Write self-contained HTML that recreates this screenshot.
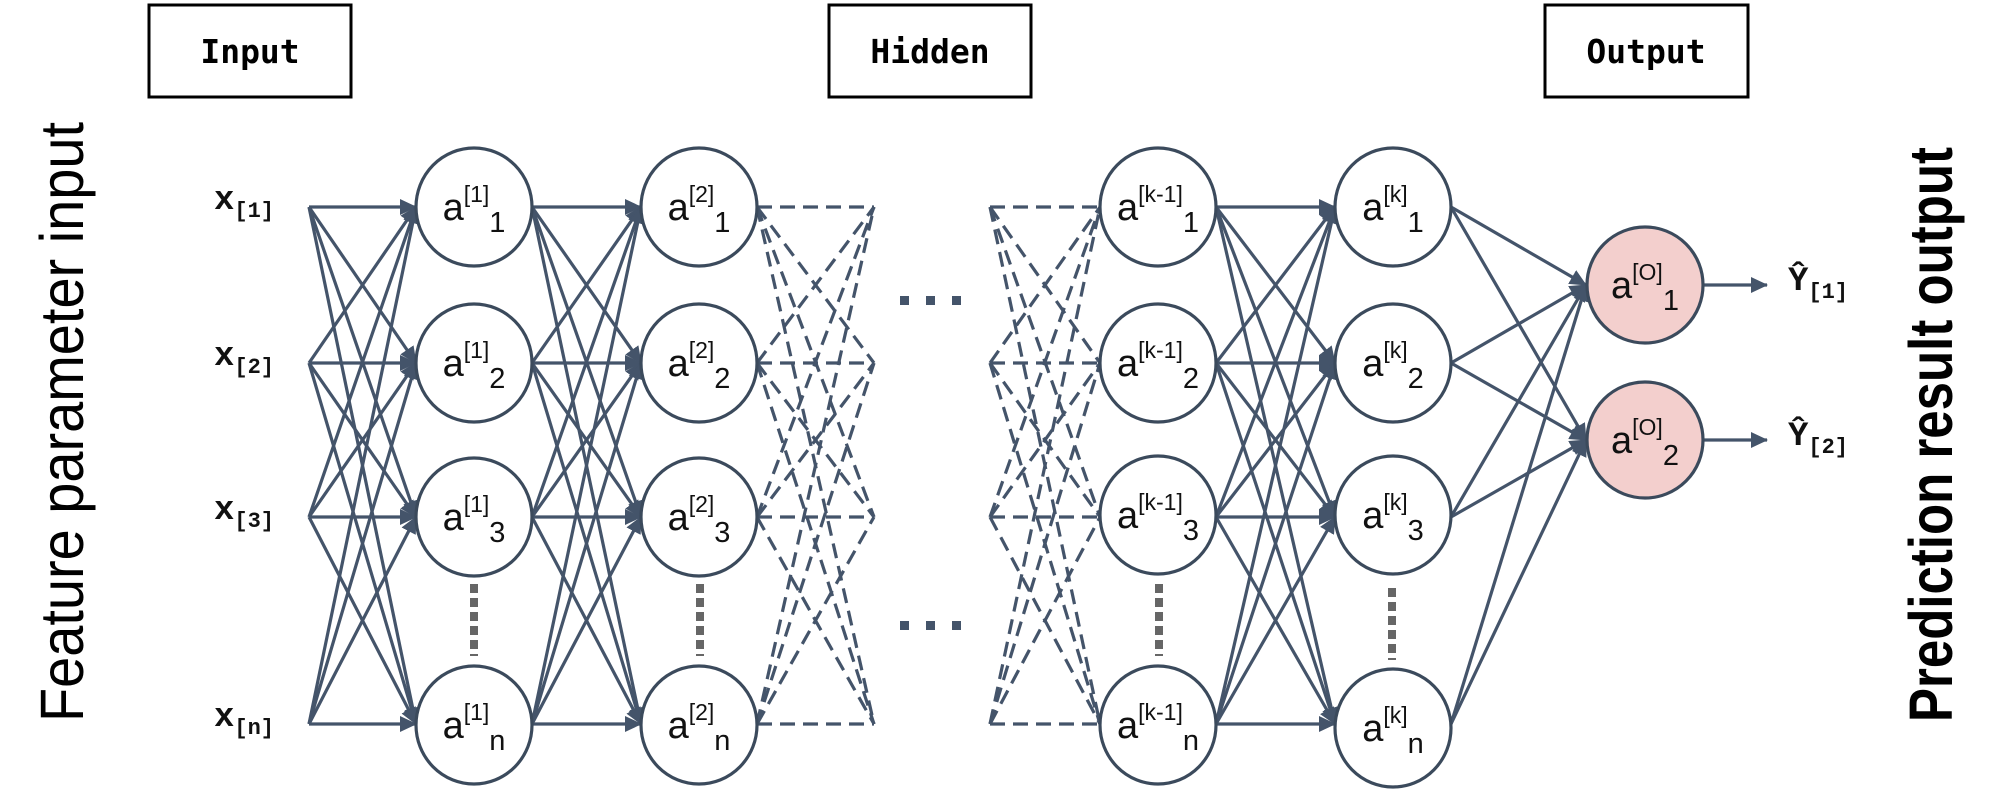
<!DOCTYPE html>
<html><head><meta charset="utf-8"><style>
html,body{margin:0;padding:0;background:#fff;}
svg{display:block;}
.l{stroke:#44546a;stroke-width:3.2;fill:none;}
.d{stroke:#44546a;stroke-width:3.2;fill:none;stroke-dasharray:15 8;}
.n{fill:#fff;stroke:#3b4a5c;stroke-width:3.2;}
.o{fill:#f3cfcd;stroke:#3b4a5c;stroke-width:3.2;}
.t{font-family:"Liberation Sans",sans-serif;font-size:38px;fill:#111;}
.v{stroke:#666;stroke-width:8;stroke-dasharray:9 5;}
.m{font-family:"Liberation Mono",monospace;font-weight:bold;}
.b{font-family:"DejaVu Sans Mono","Liberation Mono",monospace;font-weight:bold;}
</style></head><body>
<svg width="2000" height="792" viewBox="0 0 2000 792" xmlns="http://www.w3.org/2000/svg">
<defs>
<marker id="a" markerUnits="userSpaceOnUse" markerWidth="20" markerHeight="20" refX="16" refY="8" orient="auto"><path d="M0,0 L17,8 L0,16 Z" fill="#44546a"/></marker>
</defs>
<rect x="149" y="5" width="202" height="92" fill="#fff" stroke="#000" stroke-width="3"/>
<text x="250" y="63" text-anchor="middle" class="b" font-size="33">Input</text>
<rect x="829" y="5" width="202" height="92" fill="#fff" stroke="#000" stroke-width="3"/>
<text x="930" y="63" text-anchor="middle" class="b" font-size="33">Hidden</text>
<rect x="1545" y="5" width="203" height="92" fill="#fff" stroke="#000" stroke-width="3"/>
<text x="1646" y="63" text-anchor="middle" class="b" font-size="33">Output</text>
<text transform="translate(83,722) rotate(-90)" font-family="Liberation Sans,sans-serif" font-size="61" textLength="600" lengthAdjust="spacingAndGlyphs">Feature parameter input</text>
<text transform="translate(1952,722) rotate(-90)" font-family="Liberation Sans,sans-serif" font-weight="bold" font-size="61" textLength="575" lengthAdjust="spacingAndGlyphs">Prediction result output</text>
<g class="m" fill="#111">
<text x="214" y="209" font-size="34">x<tspan font-size="22" dy="8">[1]</tspan></text>
<text x="214" y="365" font-size="34">x<tspan font-size="22" dy="8">[2]</tspan></text>
<text x="214" y="519" font-size="34">x<tspan font-size="22" dy="8">[3]</tspan></text>
<text x="214" y="726" font-size="34">x<tspan font-size="22" dy="8">[n]</tspan></text>
<text x="1788" y="290" font-size="34">Ŷ<tspan font-size="22" dy="8">[1]</tspan></text>
<text x="1788" y="445" font-size="34">Ŷ<tspan font-size="22" dy="8">[2]</tspan></text>
</g>
<g class="l" marker-end="url(#a)">
<line x1="309" y1="207" x2="416" y2="207"/><line x1="309" y1="207" x2="416" y2="363"/><line x1="309" y1="207" x2="416" y2="517"/><line x1="309" y1="207" x2="416" y2="724"/>
<line x1="309" y1="363" x2="416" y2="207"/><line x1="309" y1="363" x2="416" y2="363"/><line x1="309" y1="363" x2="416" y2="517"/><line x1="309" y1="363" x2="416" y2="724"/>
<line x1="309" y1="517" x2="416" y2="207"/><line x1="309" y1="517" x2="416" y2="363"/><line x1="309" y1="517" x2="416" y2="517"/><line x1="309" y1="517" x2="416" y2="724"/>
<line x1="309" y1="724" x2="416" y2="207"/><line x1="309" y1="724" x2="416" y2="363"/><line x1="309" y1="724" x2="416" y2="517"/><line x1="309" y1="724" x2="416" y2="724"/>
</g>
<g class="l" marker-end="url(#a)">
<line x1="532" y1="207" x2="641" y2="207"/><line x1="532" y1="207" x2="641" y2="363"/><line x1="532" y1="207" x2="641" y2="517"/><line x1="532" y1="207" x2="641" y2="724"/>
<line x1="532" y1="363" x2="641" y2="207"/><line x1="532" y1="363" x2="641" y2="363"/><line x1="532" y1="363" x2="641" y2="517"/><line x1="532" y1="363" x2="641" y2="724"/>
<line x1="532" y1="517" x2="641" y2="207"/><line x1="532" y1="517" x2="641" y2="363"/><line x1="532" y1="517" x2="641" y2="517"/><line x1="532" y1="517" x2="641" y2="724"/>
<line x1="532" y1="724" x2="641" y2="207"/><line x1="532" y1="724" x2="641" y2="363"/><line x1="532" y1="724" x2="641" y2="517"/><line x1="532" y1="724" x2="641" y2="724"/>
</g>
<g class="d">
<line x1="757" y1="207" x2="874" y2="207"/><line x1="757" y1="207" x2="874" y2="363"/><line x1="757" y1="207" x2="874" y2="517"/><line x1="757" y1="207" x2="874" y2="724"/>
<line x1="757" y1="363" x2="874" y2="207"/><line x1="757" y1="363" x2="874" y2="363"/><line x1="757" y1="363" x2="874" y2="517"/><line x1="757" y1="363" x2="874" y2="724"/>
<line x1="757" y1="517" x2="874" y2="207"/><line x1="757" y1="517" x2="874" y2="363"/><line x1="757" y1="517" x2="874" y2="517"/><line x1="757" y1="517" x2="874" y2="724"/>
<line x1="757" y1="724" x2="874" y2="207"/><line x1="757" y1="724" x2="874" y2="363"/><line x1="757" y1="724" x2="874" y2="517"/><line x1="757" y1="724" x2="874" y2="724"/>
</g>
<g class="d">
<line x1="990" y1="207" x2="1100" y2="207"/><line x1="990" y1="207" x2="1100" y2="363"/><line x1="990" y1="207" x2="1100" y2="517"/><line x1="990" y1="207" x2="1100" y2="724"/>
<line x1="990" y1="363" x2="1100" y2="207"/><line x1="990" y1="363" x2="1100" y2="363"/><line x1="990" y1="363" x2="1100" y2="517"/><line x1="990" y1="363" x2="1100" y2="724"/>
<line x1="990" y1="517" x2="1100" y2="207"/><line x1="990" y1="517" x2="1100" y2="363"/><line x1="990" y1="517" x2="1100" y2="517"/><line x1="990" y1="517" x2="1100" y2="724"/>
<line x1="990" y1="724" x2="1100" y2="207"/><line x1="990" y1="724" x2="1100" y2="363"/><line x1="990" y1="724" x2="1100" y2="517"/><line x1="990" y1="724" x2="1100" y2="724"/>
</g>
<g class="l" marker-end="url(#a)">
<line x1="1216" y1="207" x2="1335" y2="207"/><line x1="1216" y1="207" x2="1335" y2="363"/><line x1="1216" y1="207" x2="1335" y2="517"/><line x1="1216" y1="207" x2="1335" y2="724"/>
<line x1="1216" y1="363" x2="1335" y2="207"/><line x1="1216" y1="363" x2="1335" y2="363"/><line x1="1216" y1="363" x2="1335" y2="517"/><line x1="1216" y1="363" x2="1335" y2="724"/>
<line x1="1216" y1="517" x2="1335" y2="207"/><line x1="1216" y1="517" x2="1335" y2="363"/><line x1="1216" y1="517" x2="1335" y2="517"/><line x1="1216" y1="517" x2="1335" y2="724"/>
<line x1="1216" y1="724" x2="1335" y2="207"/><line x1="1216" y1="724" x2="1335" y2="363"/><line x1="1216" y1="724" x2="1335" y2="517"/><line x1="1216" y1="724" x2="1335" y2="724"/>
</g>
<g class="l" marker-end="url(#a)">
<line x1="1451" y1="207" x2="1586" y2="285"/><line x1="1451" y1="207" x2="1586" y2="440"/>
<line x1="1451" y1="363" x2="1586" y2="285"/><line x1="1451" y1="363" x2="1586" y2="440"/>
<line x1="1451" y1="517" x2="1586" y2="285"/><line x1="1451" y1="517" x2="1586" y2="440"/>
<line x1="1451" y1="724" x2="1586" y2="285"/><line x1="1451" y1="724" x2="1586" y2="440"/>
<line x1="1703" y1="285" x2="1767" y2="285"/><line x1="1703" y1="440" x2="1767" y2="440"/>
</g>
<g fill="#44546a">
<rect x="900" y="296" width="9" height="9"/><rect x="926" y="296" width="9" height="9"/><rect x="952" y="296" width="9" height="9"/>
<rect x="900" y="621" width="9" height="9"/><rect x="926" y="621" width="9" height="9"/><rect x="952" y="621" width="9" height="9"/>
</g>
<g class="v">
<line x1="474" y1="584" x2="474" y2="656"/><line x1="700" y1="584" x2="700" y2="656"/>
<line x1="1159" y1="584" x2="1159" y2="656"/><line x1="1392" y1="588" x2="1392" y2="660"/>
</g>
<g>
<ellipse class="n" cx="474" cy="207" rx="58" ry="59"/><ellipse class="n" cx="474" cy="363" rx="58" ry="59"/><ellipse class="n" cx="474" cy="517" rx="58" ry="59"/><ellipse class="n" cx="474" cy="725" rx="58" ry="59"/>
<ellipse class="n" cx="699" cy="207" rx="58" ry="59"/><ellipse class="n" cx="699" cy="363" rx="58" ry="59"/><ellipse class="n" cx="699" cy="517" rx="58" ry="59"/><ellipse class="n" cx="699" cy="725" rx="58" ry="59"/>
<ellipse class="n" cx="1158" cy="207" rx="58" ry="59"/><ellipse class="n" cx="1158" cy="363" rx="58" ry="59"/><ellipse class="n" cx="1158" cy="515" rx="58" ry="59"/><ellipse class="n" cx="1158" cy="725" rx="58" ry="59"/>
<ellipse class="n" cx="1393" cy="207" rx="58" ry="59"/><ellipse class="n" cx="1393" cy="363" rx="58" ry="59"/><ellipse class="n" cx="1393" cy="515" rx="58" ry="59"/><ellipse class="n" cx="1393" cy="728" rx="58" ry="59"/>
<ellipse class="o" cx="1645" cy="285" rx="58" ry="58"/><ellipse class="o" cx="1645" cy="440" rx="58" ry="58"/>
</g>
<g class="t" text-anchor="middle">
<text x="474" y="220">a<tspan font-size="23" dy="-18">[1]</tspan><tspan font-size="29" dy="30">1</tspan></text>
<text x="474" y="376">a<tspan font-size="23" dy="-18">[1]</tspan><tspan font-size="29" dy="30">2</tspan></text>
<text x="474" y="530">a<tspan font-size="23" dy="-18">[1]</tspan><tspan font-size="29" dy="30">3</tspan></text>
<text x="474" y="738">a<tspan font-size="23" dy="-18">[1]</tspan><tspan font-size="29" dy="30">n</tspan></text>
<text x="699" y="220">a<tspan font-size="23" dy="-18">[2]</tspan><tspan font-size="29" dy="30">1</tspan></text>
<text x="699" y="376">a<tspan font-size="23" dy="-18">[2]</tspan><tspan font-size="29" dy="30">2</tspan></text>
<text x="699" y="530">a<tspan font-size="23" dy="-18">[2]</tspan><tspan font-size="29" dy="30">3</tspan></text>
<text x="699" y="738">a<tspan font-size="23" dy="-18">[2]</tspan><tspan font-size="29" dy="30">n</tspan></text>
<text x="1158" y="220">a<tspan font-size="23" dy="-18">[k-1]</tspan><tspan font-size="29" dy="30">1</tspan></text>
<text x="1158" y="376">a<tspan font-size="23" dy="-18">[k-1]</tspan><tspan font-size="29" dy="30">2</tspan></text>
<text x="1158" y="528">a<tspan font-size="23" dy="-18">[k-1]</tspan><tspan font-size="29" dy="30">3</tspan></text>
<text x="1158" y="738">a<tspan font-size="23" dy="-18">[k-1]</tspan><tspan font-size="29" dy="30">n</tspan></text>
<text x="1393" y="220">a<tspan font-size="23" dy="-18">[k]</tspan><tspan font-size="29" dy="30">1</tspan></text>
<text x="1393" y="376">a<tspan font-size="23" dy="-18">[k]</tspan><tspan font-size="29" dy="30">2</tspan></text>
<text x="1393" y="528">a<tspan font-size="23" dy="-18">[k]</tspan><tspan font-size="29" dy="30">3</tspan></text>
<text x="1393" y="741">a<tspan font-size="23" dy="-18">[k]</tspan><tspan font-size="29" dy="30">n</tspan></text>
<text x="1645" y="298">a<tspan font-size="23" dy="-18">[O]</tspan><tspan font-size="29" dy="30">1</tspan></text>
<text x="1645" y="453">a<tspan font-size="23" dy="-18">[O]</tspan><tspan font-size="29" dy="30">2</tspan></text>
</g>
</svg>
</body></html>
